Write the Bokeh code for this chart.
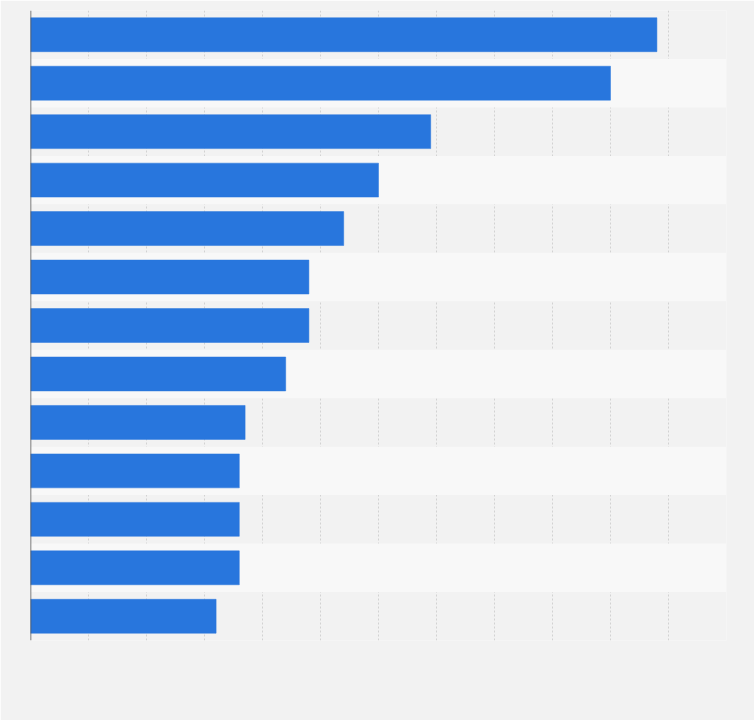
from bokeh.plotting import figure
from bokeh.models import Range1d, FixedTicker, Span, ColumnDataSource
from bokeh.embed import file_html
from bokeh.resources import INLINE

categories = ["A", "B", "C", "D", "E", "F", "G", "H", "I", "J", "K", "L", "M"]
values = [108, 100, 69, 60, 54, 48, 48, 44, 37, 36, 36, 36, 32]
x_ticks = list(range(0, 130, 10))

pos = [i + 0.5 for i in range(len(categories))]
src = ColumnDataSource(dict(cat=categories, val=values, y=pos))

p = figure(width=754, height=720, output_backend="svg", toolbar_location=None,
           x_range=Range1d(0, 120), y_range=Range1d(len(categories), 0),
           min_border_left=30, min_border_top=10, min_border_right=28, min_border_bottom=80)
p.background_fill_color = "#f2f2f2"
p.border_fill_color = "#f2f2f2"
p.outline_line_color = None
p.xaxis.visible = False
p.yaxis.visible = False

p.xgrid.ticker = FixedTicker(ticks=x_ticks)
p.xgrid.grid_line_color = "#d2d2d2"
p.xgrid.grid_line_dash = "2 2"
p.xgrid.grid_line_width = 1

p.ygrid.ticker = FixedTicker(ticks=list(range(1, len(categories))))
p.ygrid.grid_line_color = None
p.ygrid.band_fill_color = "#f8f8f8"
p.ygrid.band_fill_alpha = 1.0

p.hbar(y="y", left=0, right="val", height=0.7, source=src,
       fill_color="#2876dd", line_color="#2876dd", line_width=0.5)

p.add_layout(Span(location=0, dimension="height", line_color="#555555", line_width=1.5))

open("out.html", "w").write(file_html(p, INLINE))
